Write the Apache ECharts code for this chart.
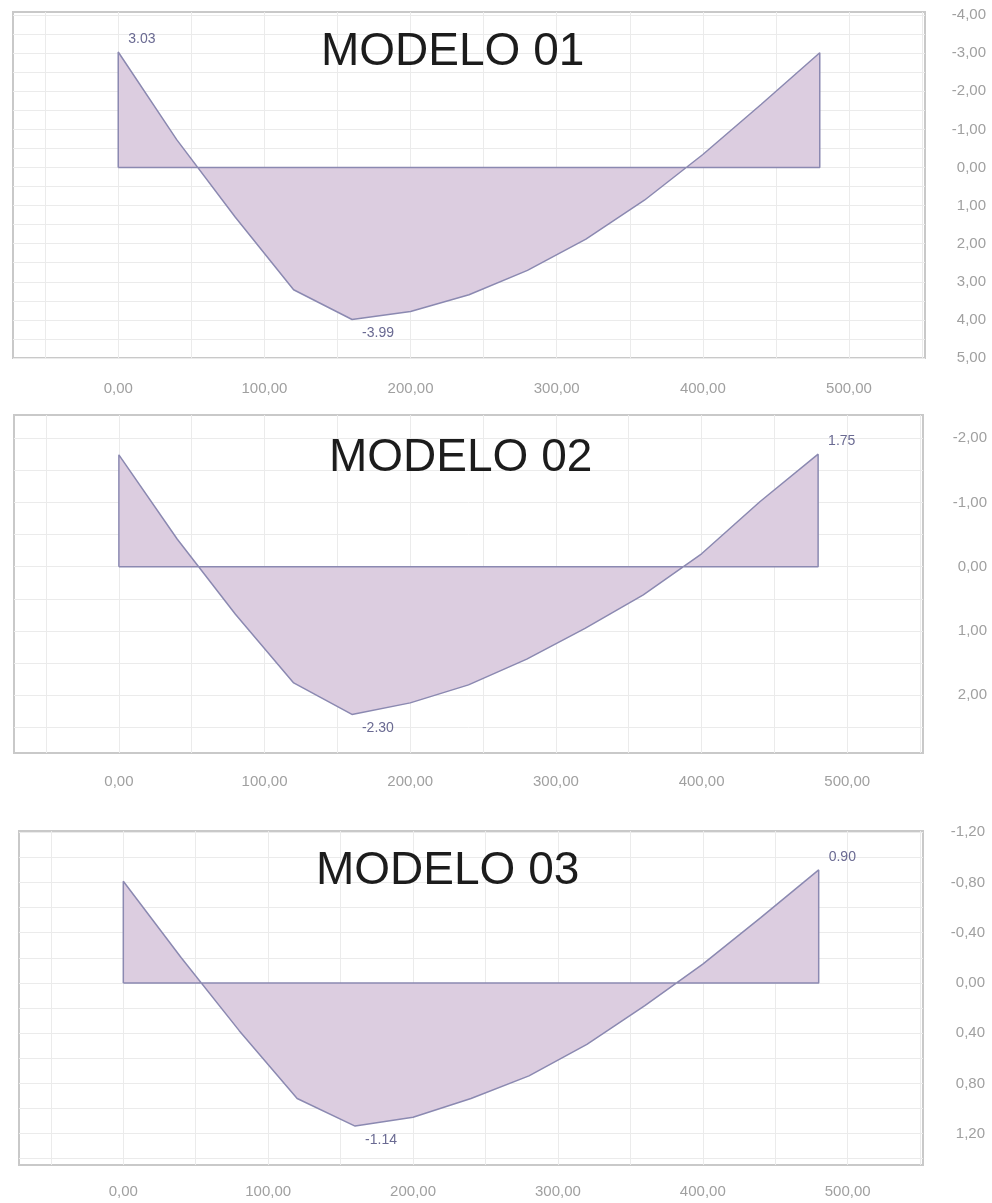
<!DOCTYPE html>
<html>
<head>
<meta charset="utf-8">
<script src="https://cdn.jsdelivr.net/npm/echarts@6/dist/echarts.min.js"></script>
<style>
html,body{margin:0;padding:0;background:#fff;}
#chart{width:992px;height:1203px;}
</style>
</head>
<body>
<div id="chart"></div>
<script>
// ---- data (x = position along the beam, values = plotted axis coordinate) ----
const stations = [0, 40, 80, 120, 160, 200, 240, 280, 320, 360, 400, 440, 480];
const modelo01 = [-3.03, -0.73, 1.30, 3.21, 3.99, 3.78, 3.34, 2.70, 1.88, 0.86, -0.34, -1.66, -3.01];
const modelo02 = [-1.74, -0.43, 0.74, 1.81, 2.30, 2.12, 1.84, 1.44, 0.96, 0.44, -0.20, -1.01, -1.75];
const modelo03 = [-0.81, -0.20, 0.38, 0.92, 1.14, 1.07, 0.92, 0.74, 0.49, 0.18, -0.15, -0.52, -0.90];
const titles = ['MODELO 01', 'MODELO 02', 'MODELO 03'];
const xTickLabels = [0, 100, 200, 300, 400, 500];
const xGridValues = [-50, 0, 50, 100, 150, 200, 250, 300, 350, 400, 450, 500, 550];
const yTickLabels1 = [-4, -3, -2, -1, 0, 1, 2, 3, 4, 5];
const yGridValues1 = [-4, -3.5, -3, -2.5, -2, -1.5, -1, -0.5, 0, 0.5, 1, 1.5, 2, 2.5, 3, 3.5, 4, 4.5, 5];
const yTickLabels2 = [-2, -1, 0, 1, 2];
const yGridValues2 = [-2, -1.5, -1, -0.5, 0, 0.5, 1, 1.5, 2, 2.5];
const yTickLabels3 = [-1.2, -0.8, -0.4, 0, 0.4, 0.8, 1.2];
const yGridValues3 = [-1.2, -1.0, -0.8, -0.6, -0.4, -0.2, 0, 0.2, 0.4, 0.6, 0.8, 1.0, 1.2, 1.4];
// which end carries the value label in each model (index into stations)
const endLabelIndex = [0, 12, 12];

// ---- layout / style ----
const panels = [
  {grid: {left: 13, top: 12, width: 912, height: 346}, y: [-4.08, 5.0], yl: yTickLabels1, yg: yGridValues1, vals: modelo01, xMargin: 23, yMargin: 61, title: {left: 321, top: 29}},
  {grid: {left: 14, top: 415, width: 909, height: 338}, y: [-2.36, 2.9], yl: yTickLabels2, yg: yGridValues2, vals: modelo02, xMargin: 21, yMargin: 64, title: {left: 329, top: 435}},
  {grid: {left: 19, top: 831, width: 904, height: 334}, y: [-1.21, 1.45], yl: yTickLabels3, yg: yGridValues3, vals: modelo03, xMargin: 19, yMargin: 62, title: {left: 316, top: 848}}
];
const FONT = '"Liberation Sans", Arial, sans-serif';
const fmtAxis = v => (Math.abs(v) < 1e-9 ? 0 : v).toFixed(2).replace('.', ',');

const option = {
  animation: false,
  backgroundColor: '#ffffff',
  title: [], grid: [], xAxis: [], yAxis: [], series: []
};

panels.forEach((p, k) => {
  option.title.push({
    text: titles[k], left: p.title.left, top: p.title.top, padding: 0,
    textStyle: {fontFamily: FONT, fontSize: 46, fontWeight: 'normal', color: '#1c1c1c'}
  });
  option.grid.push(Object.assign({show: true, borderColor: '#c9c9c9', borderWidth: 2, backgroundColor: 'transparent'}, p.grid));
  option.xAxis.push({
    type: 'value', gridIndex: k, min: -72, max: 552,
    axisLine: {show: false},
    axisTick: {show: false, customValues: xGridValues},
    axisLabel: {customValues: xTickLabels, formatter: fmtAxis, margin: p.xMargin, fontFamily: FONT, fontSize: 15, color: '#a0a0a0'},
    splitLine: {show: true, lineStyle: {color: '#ebebeb', width: 1}}
  });
  option.yAxis.push({
    type: 'value', gridIndex: k, inverse: true, position: 'right',
    min: p.y[0], max: p.y[1],
    axisLine: {show: false},
    axisTick: {show: false, customValues: p.yg},
    axisLabel: {customValues: p.yl, formatter: fmtAxis, margin: p.yMargin, align: 'right', fontFamily: FONT, fontSize: 15, color: '#a0a0a0'},
    splitLine: {show: true, lineStyle: {color: '#ebebeb', width: 1}}
  });
  // polygon: baseline start -> diagram -> baseline end -> back to start
  let minIdx = 0;
  p.vals.forEach((v, i) => { if (v > p.vals[minIdx]) minIdx = i; });
  const pts = [[stations[0], 0]];
  stations.forEach((x, i) => {
    const item = {value: [x, p.vals[i]]};
    if (i === endLabelIndex[k] || i === minIdx) {
      item.label = {
        show: true, position: 'right', distance: 10,
        offset: [0, i === minIdx ? 14 : -13],
        formatter: d => (-d.value[1]).toFixed(2),
        fontFamily: FONT, fontSize: 14, color: '#6a6a92'
      };
    }
    pts.push(item);
  });
  pts.push([stations[stations.length - 1], 0]);
  pts.push([stations[0], 0]);
  option.series.push({
    type: 'line', xAxisIndex: k, yAxisIndex: k, silent: true,
    data: pts, symbol: 'circle', symbolSize: 0, showSymbol: true,
    itemStyle: {color: '#8b89b1'},
    lineStyle: {color: '#8b89b1', width: 1.5},
    areaStyle: {color: '#dccde0', opacity: 1, origin: 0},
    label: {show: false}
  });
});

const chart = echarts.init(document.getElementById('chart'), null, {renderer: 'canvas'});
chart.setOption(option);
</script>
</body>
</html>
